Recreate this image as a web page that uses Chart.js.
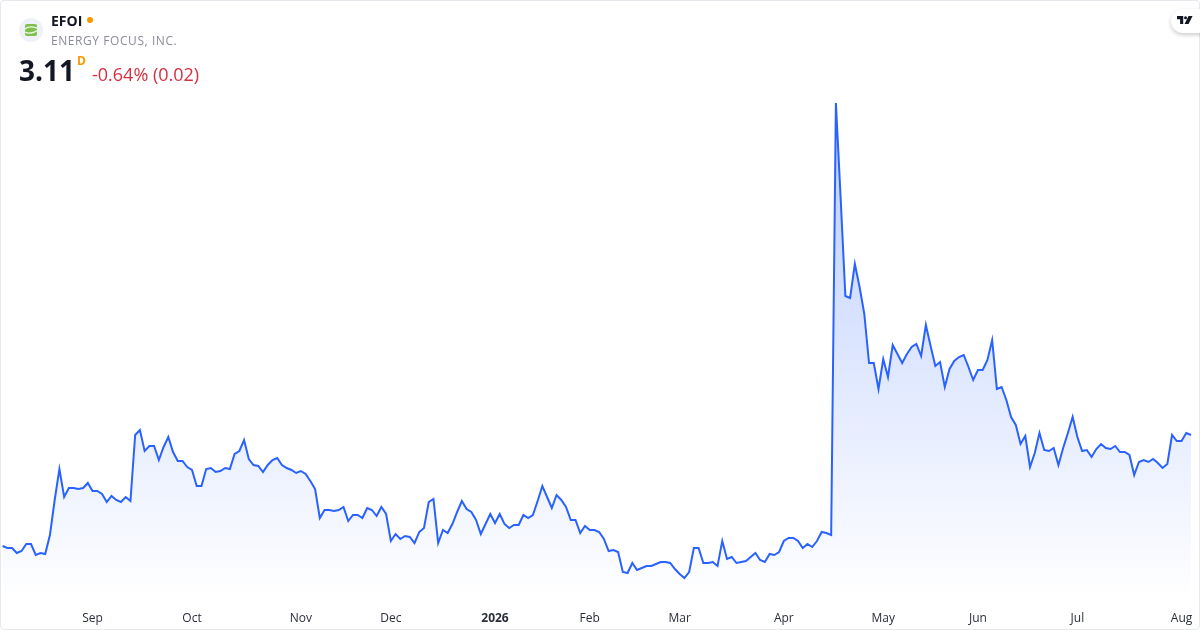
<!DOCTYPE html>
<html>
<head>
<meta charset="utf-8">
<title>EFOI</title>
<script src="https://cdn.jsdelivr.net/npm/chart.js@4/dist/chart.umd.min.js"></script>
<style>
    html, body { margin: 0; padding: 0; background: #fff; }
    body { width: 1200px; height: 630px; overflow: hidden; position: relative; font-family: "Open Sans", "Noto Sans", sans-serif; }
    #area-chart { position: absolute; left: 0; top: 0; }
    .frame { position: absolute; left: 0; top: 0; width: 1198px; height: 628px; border: 1px solid #e6e8ee; border-radius: 4px; pointer-events: none; }
    .label { position: absolute; white-space: nowrap; line-height: 1; }
    .symbol { left: 51px; top: 14px; font-size: 14px; font-weight: 700; color: #131722; }
    .dot { position: absolute; left: 87px; top: 17px; width: 6px; height: 6px; border-radius: 50%; background: #ff9800; }
    .company { left: 51px; top: 35px; font-size: 12px; color: #8a8d97; letter-spacing: 0.57px; }
    .price { left: 19px; top: 56px; font-size: 28px; font-weight: 700; color: #131722; }
    .delayed { left: 77px; top: 55px; font-size: 12px; font-weight: 700; color: #ff9800; }
    .change { left: 92px; top: 65px; font-size: 18px; color: #d62f40; }
    .logo { position: absolute; left: 19px; top: 18px; }
    .tv { position: absolute; left: 1171px; top: 9px; width: 40px; height: 24px; border-radius: 12px; background: #fff; box-shadow: 0 2px 4px rgba(0,0,0,.2); }
    .tv svg { position: absolute; left: 6px; top: 7px; }
</style>
</head>
<body>
<canvas id="area-chart" width="1200" height="630"></canvas>
<div class="frame"></div>
<svg class="logo" width="24" height="24" viewBox="0 0 24 24">
    <circle cx="12" cy="12" r="12" fill="#eef1f8"/>
    <rect x="6" y="6" width="12" height="12" rx="2" fill="#7fbf4d"/>
    <path d="M6 11 C9 8 15 9 18 10 M6 14 C9 16 15 15 18 12.5" stroke="#eef7e4" stroke-width="1.4" fill="none"/>
</svg>
<div class="label symbol">EFOI</div>
<div class="dot"></div>
<div class="label company">ENERGY FOCUS, INC.</div>
<div class="label price">3.11</div>
<div class="label delayed">D</div>
<div class="label change">-0.64% (0.02)</div>
<div class="tv">
    <svg width="16" height="9" viewBox="0 0 18 10">
        <path d="M0 0 H7 V9 H3.5 V3.5 H0 Z" fill="#131722"/>
        <circle cx="9.6" cy="2" r="1.7" fill="#131722"/>
        <path d="M13 0 H17.5 L13 9 H8.5 Z" fill="#131722"/>
    </svg>
</div>
<script>
document.addEventListener("DOMContentLoaded", function() {
    const prices = [
        2.00, 1.98, 1.98, 1.93, 1.95, 2.02, 2.02, 1.91, 1.93, 1.92, 2.11, 2.46, 2.77, 2.49, 2.58, 2.58, 2.57, 2.58,
        2.63, 2.55, 2.55, 2.52, 2.44, 2.50, 2.46, 2.44, 2.49, 2.45, 3.11, 3.16, 2.95, 3.00, 3.00, 2.86, 2.99, 3.09,
        2.94, 2.85, 2.85, 2.79, 2.76, 2.60, 2.60, 2.77, 2.78, 2.74, 2.75, 2.78, 2.77, 2.92, 2.95, 3.06, 2.87, 2.81,
        2.80, 2.74, 2.81, 2.86, 2.88, 2.81, 2.78, 2.76, 2.73, 2.75, 2.72, 2.65, 2.57, 2.28, 2.36, 2.36, 2.35, 2.36,
        2.39, 2.25, 2.31, 2.31, 2.28, 2.38, 2.36, 2.30, 2.39, 2.32, 2.05, 2.12, 2.07, 2.10, 2.09, 2.03, 2.14, 2.18,
        2.44, 2.47, 2.03, 2.16, 2.13, 2.22, 2.34, 2.45, 2.37, 2.34, 2.26, 2.12, 2.22, 2.32, 2.23, 2.32, 2.22, 2.18,
        2.21, 2.21, 2.31, 2.28, 2.31, 2.45, 2.60, 2.49, 2.38, 2.51, 2.46, 2.39, 2.26, 2.26, 2.13, 2.20, 2.16, 2.16,
        2.14, 2.07, 1.95, 1.96, 1.94, 1.74, 1.73, 1.83, 1.76, 1.78, 1.80, 1.80, 1.82, 1.84, 1.84, 1.83, 1.77, 1.72,
        1.68, 1.74, 1.98, 1.98, 1.83, 1.83, 1.84, 1.80, 2.05, 1.87, 1.89, 1.83, 1.84, 1.85, 1.89, 1.93, 1.86, 1.84,
        1.92, 1.91, 1.94, 2.05, 2.08, 2.08, 2.05, 1.98, 2.02, 1.99, 2.05, 2.14, 2.13, 2.11, 6.43, 5.48, 4.50, 4.48,
        4.82, 4.59, 4.32, 3.83, 3.83, 3.57, 3.87, 3.69, 4.01, 3.92, 3.83, 3.92, 3.99, 4.02, 3.90, 4.21, 4.00, 3.80,
        3.84, 3.59, 3.77, 3.85, 3.89, 3.91, 3.79, 3.66, 3.76, 3.76, 3.86, 4.06, 3.57, 3.59, 3.46, 3.29, 3.21, 3.02,
        3.10, 2.79, 2.93, 3.13, 2.96, 2.95, 2.98, 2.81, 2.98, 3.13, 3.29, 3.09, 2.95, 2.96, 2.89, 2.97, 3.02, 2.98,
        2.97, 3.00, 2.94, 2.94, 2.91, 2.71, 2.84, 2.86, 2.84, 2.87, 2.83, 2.78, 2.82, 3.11, 3.05, 3.05, 3.13, 3.11
    ];
    const tickLabels = ['Sep', 'Oct', 'Nov', 'Dec', '2026', 'Feb', 'Mar', 'Apr', 'May', 'Jun', 'Jul', 'Aug'];
    const tickIndexes = [19, 40, 63, 82, 104, 124, 143, 165, 186, 206, 227, 249];

    const labels = prices.map((_, i) => i);

    function areaFill(context) {
        const gradient = context.chart.ctx.createLinearGradient(0, 102, 0, 600);
        gradient.addColorStop(0, 'rgba(41, 98, 255, 0.32)');
        gradient.addColorStop(1, 'rgba(41, 98, 255, 0)');
        return gradient;
    }

    new Chart(document.getElementById('area-chart').getContext('2d'), {
        type: 'line',
        data: {
            labels: labels,
            datasets: [{
                data: prices,
                borderColor: '#2962FF',
                borderWidth: 2,
                borderJoinStyle: 'miter',
                backgroundColor: areaFill,
                fill: 'start',
                pointRadius: 0,
                tension: 0
            }]
        },
        options: {
            responsive: false,
            animation: false,
            layout: { autoPadding: false, padding: { left: 2.6, right: 9, top: 0, bottom: 0 } },
            plugins: { legend: { display: false }, tooltip: { enabled: false } },
            scales: {
                x: {
                    type: 'category',
                    offset: false,
                    grid: { display: false, drawTicks: false },
                    border: { display: false },
                    afterBuildTicks: scale => {
                        scale.ticks = tickIndexes.map(value => ({ value: value }));
                    },
                    afterFit: scale => {
                        scale.height = 30;
                        scale.paddingLeft = 0;
                        scale.paddingRight = 0;
                    },
                    ticks: {
                        autoSkip: false,
                        maxRotation: 0,
                        padding: 11,
                        color: '#2a2e39',
                        font: context => ({
                            family: '"Open Sans", "Noto Sans", sans-serif',
                            size: 12,
                            weight: context.index === 4 ? '700' : '400'
                        }),
                        callback: (value, index) => tickLabels[index]
                    }
                },
                y: { display: false, min: 1.46, max: 7.46 }
            }
        }
    });
});
</script>
</body>
</html>
